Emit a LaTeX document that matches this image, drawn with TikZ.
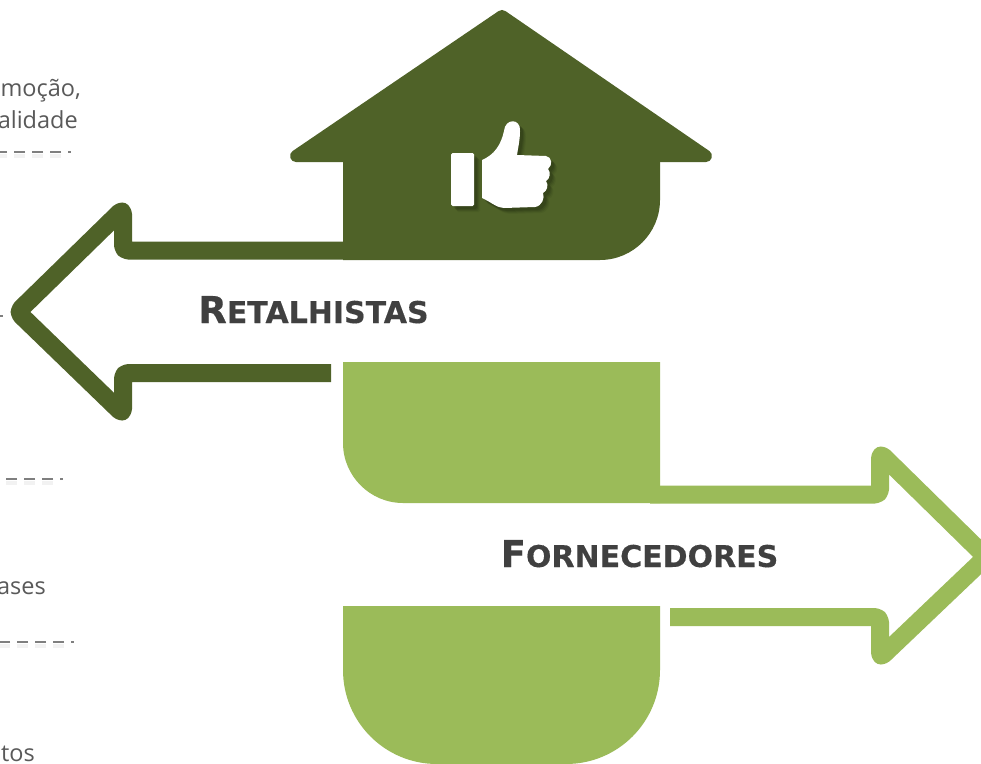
\documentclass[tikz,border=0pt]{standalone}
\usepackage{fontspec}
\setmainfont{Open Sans}
\newfontfamily\titlefont{DejaVu Sans Bold}[FakeBold=0.35]
\definecolor{darkgreen}{HTML}{4F6228}
\definecolor{lightgreen}{HTML}{9BBB59}
\definecolor{bodytext}{HTML}{595959}
\definecolor{titletext}{HTML}{404040}
\definecolor{dashgray}{HTML}{7F7F7F}
\newcommand{\titlecaps}[2]{{\titlefont\fontsize{37}{40}\selectfont #1\fontsize{30}{34}\selectfont #2}}
\tikzset{
  x=1pt,y=-1pt,
  arrowline/.style={line width=18pt,line join=round,line cap=butt,rounded corners=5pt},
  bodylabel/.style={anchor=base east,inner sep=0pt,text=bodytext,font=\fontsize{23.5}{27}\selectfont},
  titlelabel/.style={anchor=base,inner sep=0pt,text=titletext},
  dashrule/.style={draw=dashgray,line width=1.6pt,dash pattern=on 11pt off 7pt},
  dashshade/.style={draw=black,opacity=0.05,line width=4pt,dash pattern=on 11pt off 7pt},
  handshape/.pic={
    \path[pic actions,rounded corners=1.5pt] (451,153)--(474,153)--(474,206)--(451,206)--cycle;
    \path[pic actions]
      (482,160) .. controls (494,155) and (501,145) .. (504,131)
      .. controls (505,118) and (521,118) .. (520,131)
      .. controls (520,140) and (518,148) .. (517,155)
      -- (546,156) .. controls (552,157) and (553,165) .. (548,169)
      .. controls (551,172) and (550,179) .. (546,181)
      .. controls (549,185) and (547,191) .. (543,193)
      .. controls (545,198) and (542,206) .. (535,207)
      -- (504,208) .. controls (497,208) and (491,202) .. (482,198) -- cycle;
  }
}
\begin{document}
\begin{tikzpicture}
\useasboundingbox (0,0) rectangle (981,763);
\clip (0,0) rectangle (981,763);

% partial texts cut at the left edge
\node[bodylabel] (t1) at (81,96) {moção,};
\node[bodylabel] (t2) at (78,128) {alidade};
\node[bodylabel] (t3) at (46,594) {ases};
\node[bodylabel] (t4) at (35,761) {tos};

% dashed rules
\foreach \yy/\xx in {152/61,479/53,642/64}{
  \draw[dashshade] (\xx,\yy+4) -- (0,\yy+4);
  \draw[dashrule] (\xx,\yy) -- (0,\yy);
  \draw[draw=dashgray,line width=1.6pt] (\xx+7,\yy) -- (\xx+10,\yy);
}
\draw[draw=dashgray,line width=1.6pt] (0,316) -- (3,316);

% dark arrow
\draw[arrowline,darkgreen] (400,250.5) -- (123,250.5) -- (123,209) -- (17.5,312) -- (123,414) -- (123,373) -- (331,373);

% house
\fill[darkgreen,draw=darkgreen,line width=12pt,line join=round] (502,16) -- (706,156) -- (296,156) -- cycle;
\fill[darkgreen] (343,150) -- (660,150) -- (660,200) .. controls (660,233) and (633,260) .. (600,260) -- (343,260) -- cycle;

% thumb shadow + thumb
\foreach \d/\o in {6/0.05,5/0.07,4/0.09,3/0.11}{
  \begin{scope}[shift={(\d,\d)}]
    \pic[fill=black,fill opacity=\o] {handshape};
  \end{scope}
}
\pic[fill=white] {handshape};

% light arrow
\fill[lightgreen] (343,362) -- (660,362) -- (660,503) -- (403,503) .. controls (370,503) and (343,476) .. (343,443) -- cycle;
\draw[arrowline,lightgreen] (650,494.5) -- (880,494.5) -- (880,453) -- (986,557) -- (880,658) -- (880,617) -- (670,617);
\fill[lightgreen] (343,606) -- (660,606) -- (660,670) .. controls (660,722) and (618,764) .. (566,764) -- (437,764) .. controls (385,764) and (343,722) .. (343,670) -- cycle;

% titles
\node[titlelabel] (ret) at (313.5,323) {\titlecaps{R}{ETALHISTAS}};
\node[titlelabel] (forn) at (639.5,567) {\titlecaps{F}{ORNECEDORES}};
\end{tikzpicture}
\end{document}
